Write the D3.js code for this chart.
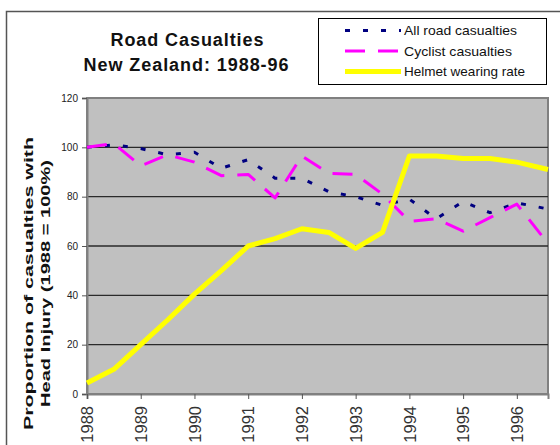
<!DOCTYPE html>
<html>
<head>
<meta charset="utf-8">
<script src="https://cdn.jsdelivr.net/npm/d3@7"></script>
<style>
  body { margin: 0; background: #fff; }
  text { font-family: Arial, "Liberation Sans", sans-serif; }
</style>
</head>
<body>
<script>
"use strict"
const w = 560;
const h = 445;

// half-yearly readings, the last one taken part way through 1996
const periods = [1988, 1988.5, 1989, 1989.5, 1990, 1990.5, 1991, 1991.5, 1992,
	1992.5, 1993, 1993.5, 1994, 1994.5, 1995, 1995.5, 1996, 1996.58];
const roadCasualties = [100, 101, 99.5, 97, 98, 91.5, 95, 87.5, 87.5,
	82, 80, 76.5, 79, 71, 78, 73.5, 77.5, 75];
const cyclistCasualties = [100, 101.5, 92.5, 97, 94, 88.5, 89, 79.5, 96.5,
	89.5, 89, 81, 70, 71, 66, 71.5, 77, 61];
const helmetRate = [4.5, 10, 20, 30, 40.5, 50, 60, 63, 67,
	65.5, 59, 65.5, 96.5, 96.5, 95.5, 95.5, 94, 91];
const yearTicks = [1988, 1989, 1990, 1991, 1992, 1993, 1994, 1995, 1996];
const valueTicks = [0, 20, 40, 60, 80, 100, 120];

const series = [
	{name: 'All road casualties', values: roadCasualties, color: '#000080', width: 3, dash: '5,13', len: 113},
	{name: 'Cyclist casualties', values: cyclistCasualties, color: '#ff00ff', width: 3, dash: '20,13', len: 108},
	{name: 'Helmet wearing rate', values: helmetRate, color: '#ffff00', width: 5, dash: null, len: 121}
];

const plot = {left: 87, right: 548, top: 98, bottom: 394};

const mySvg = d3.select('body')
	.append('svg')
	.attr('width', w)
	.attr('height', h);

// outer chart frame
mySvg.append('rect')
	.attr('x', 6.5)
	.attr('y', 11.5)
	.attr('width', w)
	.attr('height', h)
	.attr('fill', 'none')
	.attr('stroke', '#555')
	.attr('stroke-width', 1.5);

const xScale = d3.scaleLinear()
	.domain([1988, 1996.58])
	.range([plot.left, plot.right]);

const yScale = d3.scaleLinear()
	.domain([0, 120])
	.range([plot.bottom, plot.top]);

mySvg.append('rect')
	.attr('x', plot.left)
	.attr('y', plot.top)
	.attr('width', plot.right - plot.left)
	.attr('height', plot.bottom - plot.top)
	.attr('fill', '#c0c0c0')
	.attr('stroke', '#808080')
	.attr('stroke-width', 2);

// gridlines
mySvg.append('g')
	.selectAll('line')
	.data(valueTicks.filter(d => d > 0 && d < 120))
	.enter()
	.append('line')
	.attr('x1', plot.left)
	.attr('x2', plot.right)
	.attr('y1', d => yScale(d))
	.attr('y2', d => yScale(d))
	.attr('stroke', '#2a2a2a')
	.attr('stroke-width', 1.3);

const yAxis = d3.axisLeft(yScale)
	.tickValues(valueTicks)
	.tickSize(5)
	.tickPadding(4);

const gy = mySvg.append('g')
	.attr('transform', 'translate(' + plot.left + ',0)')
	.call(yAxis);
gy.select('.domain').attr('stroke', '#808080').attr('stroke-width', 2);
gy.selectAll('.tick line').attr('stroke', '#555');
gy.selectAll('.tick text')
	.attr('font-size', 10)
	.attr('fill', '#222');

const xAxis = d3.axisBottom(xScale)
	.tickValues(yearTicks)
	.tickFormat(d3.format('d'))
	.tickSize(5);

const gx = mySvg.append('g')
	.attr('transform', 'translate(0,' + plot.bottom + ')')
	.call(xAxis);
gx.select('.domain').attr('stroke', '#808080').attr('stroke-width', 2);
gx.selectAll('.tick line').attr('stroke', '#555');
gx.selectAll('.tick text')
	.attr('font-size', 16.5)
	.attr('fill', '#333')
	.attr('text-anchor', 'end')
	.attr('dy', '0.35em')
	.attr('transform', 'translate(0,' + (406 - plot.bottom) + ') rotate(-90)')
	.attr('x', 0)
	.attr('y', 0);

const line = d3.line()
	.x((d, i) => xScale(periods[i]))
	.y(d => yScale(d));

series.forEach(s => {
	mySvg.append('path')
		.datum(s.values)
		.attr('d', line)
		.attr('fill', 'none')
		.attr('stroke', s.color)
		.attr('stroke-width', s.width)
		.attr('stroke-dasharray', s.dash)
		.attr('stroke-linejoin', 'round');
});

// title
const title = mySvg.append('g').attr('font-weight', 'bold').attr('font-size', 18).attr('fill', '#111');
title.append('text')
	.attr('x', 187).attr('y', 46)
	.attr('text-anchor', 'middle')
	.attr('textLength', 153).attr('lengthAdjust', 'spacing')
	.text('Road Casualties');
title.append('text')
	.attr('x', 186).attr('y', 71)
	.attr('text-anchor', 'middle')
	.attr('textLength', 205).attr('lengthAdjust', 'spacing')
	.text('New Zealand: 1988-96');

// y axis title
const yTitle = mySvg.append('g')
	.attr('transform', 'translate(0,283.5) rotate(-90)')
	.attr('font-weight', 'bold')
	.attr('font-size', 13)
	.attr('fill', '#111')
	.attr('text-anchor', 'middle');
yTitle.append('text')
	.attr('x', 0).attr('y', 32.5)
	.attr('textLength', 293).attr('lengthAdjust', 'spacingAndGlyphs')
	.text('Proportion of casualties with');
yTitle.append('text')
	.attr('x', 0).attr('y', 49.5)
	.attr('textLength', 247).attr('lengthAdjust', 'spacingAndGlyphs')
	.text('Head Injury (1988 = 100%)');

// legend
const legend = mySvg.append('g');
legend.append('rect')
	.attr('x', 318.5).attr('y', 18.5)
	.attr('width', 228).attr('height', 66)
	.attr('fill', '#fff')
	.attr('stroke', '#000')
	.attr('stroke-width', 1);

legend.selectAll('.item')
	.data(series)
	.enter()
	.append('g')
	.attr('transform', (d, i) => 'translate(0,' + (30.5 + i * 20.5) + ')')
	.each(function (d) {
		const g = d3.select(this);
		g.append('line')
			.attr('x1', 345).attr('x2', 401)
			.attr('y1', 0).attr('y2', 0)
			.attr('stroke', d.color)
			.attr('stroke-width', d.width)
			.attr('stroke-dasharray', d.dash);
		g.append('text')
			.attr('x', 404).attr('y', 0)
			.attr('dy', '0.35em')
			.attr('font-size', 13)
			.attr('fill', '#111')
			.attr('textLength', d.len).attr('lengthAdjust', 'spacingAndGlyphs')
			.text(d.name);
	});
</script>
</body>
</html>
